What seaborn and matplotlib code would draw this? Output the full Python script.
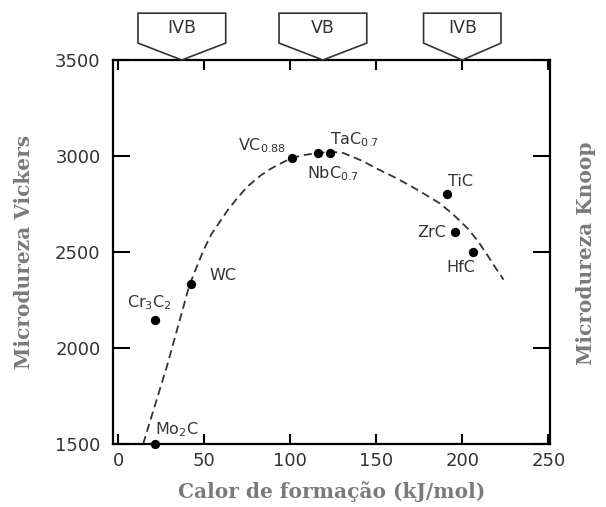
import matplotlib
matplotlib.use("Agg")
import matplotlib.pyplot as plt
import matplotlib.transforms as mtransforms
from matplotlib.patches import Polygon
import seaborn as sns
import pandas as pd

# ---- data ----
compounds = ["Mo$_2$C", "Cr$_3$C$_2$", "WC", "VC$_{0.88}$", "NbC$_{0.7}$", "TaC$_{0.7}$", "TiC", "ZrC", "HfC"]
heat = [21.5, 21.5, 42.4, 101, 116, 123, 191, 196, 206]
hardness = [1500, 2144, 2335, 2990, 3015, 3015, 2804, 2603, 2500]

curve_x = [14.5, 28.5, 41.5, 49.4, 54, 59.3, 64, 69, 75, 82.6, 88, 94, 101, 108, 116, 124, 131, 142, 150.6, 160, 169.8, 178, 187, 195, 203, 209, 214.5, 219, 224]
curve_y = [1500, 1910, 2330, 2505, 2590, 2660, 2722, 2778, 2840, 2897, 2930, 2959, 2990, 3005, 3015, 3022, 3015, 2974, 2933, 2892, 2845, 2802, 2753, 2693, 2624, 2558, 2485, 2422, 2356]

groups = ["IVB", "VB", "IVB"]
group_x = [37, 119, 200]

xticks = [0, 50, 100, 150, 200, 250]
yticks = [1500, 2000, 2500, 3000, 3500]

# label offsets in points (style)
offsets = {
    "Mo$_2$C": (0, 10, "left"),
    "Cr$_3$C$_2$": (-20, 13, "left"),
    "WC": (13, 6, "left"),
    "VC$_{0.88}$": (-4, 9, "right"),
    "NbC$_{0.7}$": (-8, -15, "left"),
    "TaC$_{0.7}$": (0, 10, "left"),
    "TiC": (1, 9, "left"),
    "ZrC": (-7, 0, "right"),
    "HfC": (-19, -11, "left"),
}

sns.set_theme(style="white")
plt.rcParams["font.family"] = ["DejaVu Sans"]

fig = plt.figure(figsize=(6.06, 5.07), dpi=100)
ax = fig.add_axes([0.1865, 0.1243, 0.7211, 0.7574])

df_pts = pd.DataFrame({"x": heat, "y": hardness, "c": compounds})
df_curve = pd.DataFrame({"x": curve_x, "y": curve_y})

sns.lineplot(data=df_curve, x="x", y="y", ax=ax, color="#333333", lw=1.3,
             linestyle=(0, (4.5, 2.6)), sort=False, estimator=None)
sns.scatterplot(data=df_pts, x="x", y="y", ax=ax, color="black", s=45,
                edgecolor="black", linewidth=0, zorder=5, clip_on=False)

for c, x, y in zip(compounds, heat, hardness):
    dx, dy, ha = offsets[c]
    ax.annotate(c, (x, y), xytext=(dx, dy), textcoords="offset points",
                ha=ha, va="center", fontsize=11.5, color="#333333")

ax.set_xlim(-3, 251)
ax.set_ylim(1500, 3500)
ax.set_xticks(xticks)
ax.set_yticks(yticks)
ax.tick_params(axis="x", direction="in", length=7, width=1.5, top=True, bottom=True,
               pad=6, labelsize=13, labelcolor="#333333", color="black")
ax.tick_params(axis="y", direction="in", length=12, width=1.5, left=True, right=True,
               pad=9, labelsize=13, labelcolor="#333333", color="black")
for s in ax.spines.values():
    s.set_linewidth(1.6)
    s.set_color("black")

ax.set_xlabel("Calor de formação (kJ/mol)", fontsize=14.5, fontweight="bold",
              family="DejaVu Serif", color="#7a7a7a", labelpad=8)
ax.set_ylabel("Microdureza Vickers", fontsize=14.5, fontweight="bold",
              family="DejaVu Serif", color="#7a7a7a", labelpad=15)
fig.text(0.967, 0.5, "Microdureza Knoop", rotation=90, ha="center", va="center",
         fontsize=14.5, fontweight="bold", family="DejaVu Serif", color="#7a7a7a")

# group pentagons above the axes
trans = mtransforms.blended_transform_factory(ax.transData, fig.transFigure)
widths = [25.5, 25.5, 22.5]
for g, gx, hw in zip(groups, group_x, widths):
    verts = [(gx - hw, 0.974), (gx + hw, 0.974), (gx + hw, 0.915),
             (gx, 0.8817), (gx - hw, 0.915)]
    poly = Polygon(verts, closed=True, transform=trans, facecolor="white",
                   edgecolor="#333333", lw=1.2, clip_on=False)
    fig.add_artist(poly)
    t = fig.text(gx, 0.945, g, ha="center", va="center",
                 fontsize=12.5, color="#333333")
    t.set_transform(trans)

fig.savefig("out.png", dpi=100)
